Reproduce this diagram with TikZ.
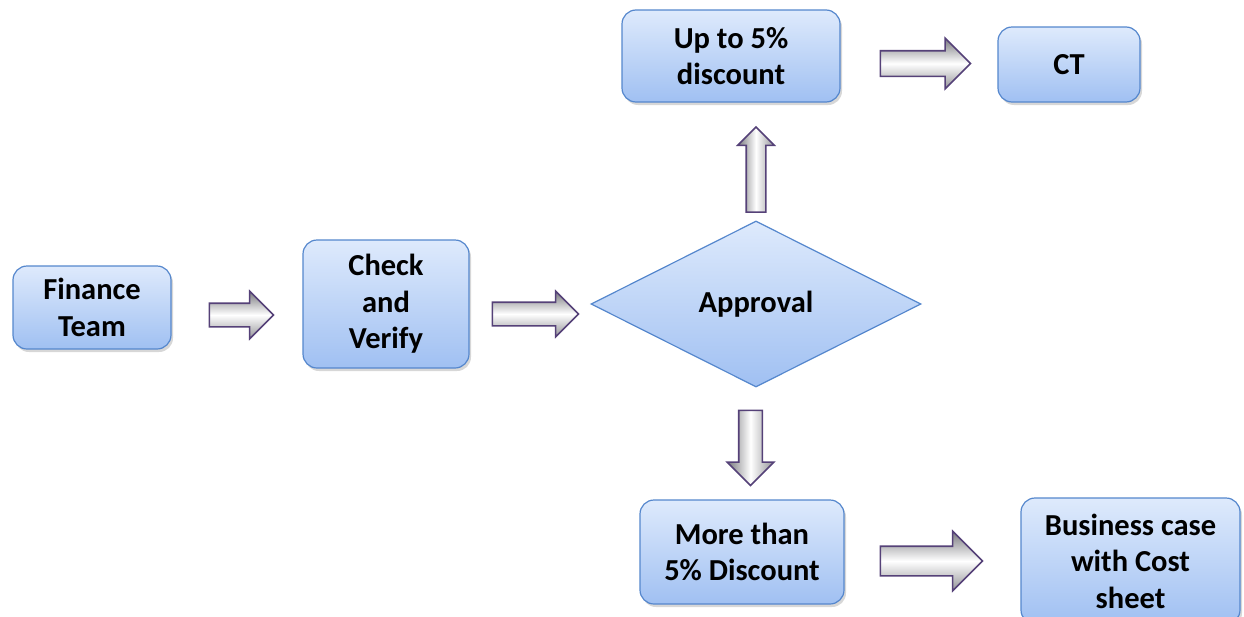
\documentclass[tikz,border=0pt]{standalone}
\usepackage{fontspec}
\setmainfont{Carlito}
\usetikzlibrary{shapes.geometric,shapes.arrows,shadows,calc}
\definecolor{boxtop}{RGB}{222,234,252}
\definecolor{boxbot}{RGB}{160,192,242}
\definecolor{boxline}{RGB}{85,135,205}
\definecolor{arrline}{RGB}{85,65,120}
\definecolor{arrdark}{RGB}{120,120,125}
\tikzset{
  box/.style={rectangle, rounded corners=14pt, draw=boxline, line width=1.2pt,
    top color=boxtop, bottom color=boxbot, align=center,
    font=\fontsize{30.5}{36.5}\selectfont\bfseries, inner sep=0pt,
    drop shadow={shadow xshift=2pt, shadow yshift=-3pt, fill=black!45, opacity=0.35}},
  dia/.style={diamond, draw=boxline, line width=1.2pt, top color=boxtop, bottom color=boxbot,
    font=\fontsize{30.5}{36.5}\selectfont\bfseries, inner sep=0pt, aspect=2},
  harr/.style={single arrow, draw=arrline, line width=1.6pt, single arrow head extend=#1,
    top color=arrdark, bottom color=arrdark!80, middle color=white},
  varr/.style={single arrow, draw=arrline, line width=1.6pt, single arrow head extend=#1,
    left color=arrdark, right color=arrdark!80, middle color=white},
}
\begin{document}
\begin{tikzpicture}[x=1pt,y=-1pt]
\useasboundingbox (0,0) rectangle (1244,616);
\node[box, minimum width=158pt, minimum height=83pt] (fin) at (92,307.5) {Finance\\Team};
\node[box, minimum width=166pt, minimum height=128pt] (chk) at (386,304) {Check\\and\\Verify};
\node[dia, minimum width=330pt, minimum height=166pt] (app) at (756,304) {Approval};
\node[box, minimum width=218pt, minimum height=92pt] (up) at (731,56) {Up to 5\%\\discount};
\node[box, minimum width=142pt, minimum height=75pt] (ct) at (1069,64.5) {CT};
\node[box, minimum width=204pt, minimum height=104pt] (more) at (742,552) {More than\\5\% Discount};
\node[box, minimum width=219pt, minimum height=126pt] (bus) at (1130.5,561) {Business case\\with Cost\\sheet};
% block arrows
\node[harr=12pt, inner sep=11pt, minimum height=64pt, minimum width=46pt] (a1) at (235.5,315) {};
\node[harr=11pt, inner sep=11pt, minimum height=86pt, minimum width=44pt] (a2) at (529.5,314) {};
\node[varr=8.5pt, inner sep=9pt, minimum height=85pt, minimum width=35pt, shape border rotate=90] (a3) at (756,174.5) {};
\node[harr=12.5pt, inner sep=12pt, minimum height=90pt, minimum width=49pt] (a4) at (919,63.5) {};
\node[varr=11.5pt, inner sep=11pt, minimum height=75pt, minimum width=45pt, shape border rotate=270] (a5) at (750.5,442) {};
\node[harr=15pt, inner sep=14pt, minimum height=102pt, minimum width=58pt] (a6) at (924,561) {};
\end{tikzpicture}
\end{document}
